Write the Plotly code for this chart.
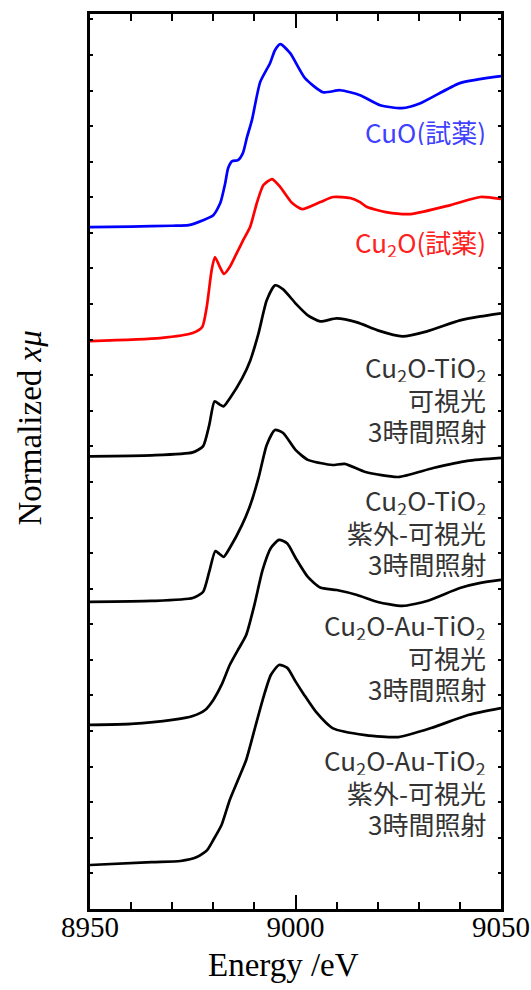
import plotly.graph_objects as go

# ---------------- data ----------------
# energies (eV) and normalized absorption (edge-step ~1), each spectrum stacked by an offset
cuo_E = [8950, 8960, 8970, 8974, 8977.5, 8980, 8981.7, 8982.9, 8983.6, 8984.6, 8986, 8987.2,
         8988.2, 8989.4, 8991.4, 8993.8, 8995, 8996.3, 8998.7, 9002.3, 9006.7, 9010.9, 9015.7,
         9020.6, 9025.9, 9030.4, 9040, 9050]
cuo_mu = [0.0, 0.004, 0.01, 0.014, 0.049, 0.084, 0.169, 0.309, 0.414, 0.464, 0.471, 0.52,
          0.632, 0.752, 1.019, 1.152, 1.243, 1.286, 1.222, 1.047, 0.948, 0.962, 0.927,
          0.857, 0.836, 0.871, 1.012, 1.061]

cu2o_E = [8950, 8967, 8975, 8977.3, 8978.4, 8979.6, 8980.4, 8981.6, 8982.6, 8984, 8985.7,
          8987.3, 8989, 8990.6, 8992.2, 8994.3, 8996.3, 8999.2, 9001.6, 9006, 9009.2, 9013.3,
          9015.7, 9017.4, 9022, 9028, 9037.7, 9045, 9050]
cu2o_mu = [0.0, 0.021, 0.056, 0.098, 0.239, 0.499, 0.59, 0.52, 0.471, 0.52, 0.618,
           0.71, 0.805, 0.97, 1.096, 1.138, 1.082, 0.969, 0.927, 0.976, 1.012, 1.005,
           0.976, 0.941, 0.906, 0.892, 0.955, 1.012, 0.998]

tio2_vis_E = [8950, 8965, 8975, 8977.5, 8979, 8980.3, 8981.5, 8982.5, 8984, 8987, 8989, 8991,
              8993, 8995, 8997, 9000, 9003, 9006, 9010, 9015, 9020, 9026, 9032, 9040, 9045, 9050]
tio2_vis_mu = [0.0, 0.007, 0.028, 0.07, 0.218, 0.386, 0.365, 0.351, 0.407, 0.548, 0.674, 0.864,
               1.096, 1.201, 1.173, 1.075, 0.991, 0.948, 0.969, 0.941, 0.885, 0.843, 0.878,
               0.955, 0.983, 1.005]

tio2_uv_E = [8950, 8965, 8975, 8977.5, 8979, 8980.5, 8981.5, 8982.5, 8984, 8987, 8989, 8991,
             8993, 8995, 8997, 9000, 9003, 9006, 9009, 9012, 9017, 9025, 9033.5, 9041.8, 9050]
tio2_uv_mu = [0.0, 0.007, 0.028, 0.07, 0.211, 0.358, 0.337, 0.316, 0.379, 0.541, 0.681, 0.871,
              1.103, 1.208, 1.187, 1.068, 0.998, 0.976, 0.962, 0.97, 0.913, 0.878, 0.941,
              0.991, 1.012]

au_vis_E = [8950, 8960, 8970, 8975, 8978, 8980, 8982, 8984, 8986, 8988, 8990, 8992, 8994,
            8996, 8998, 9000, 9003, 9006, 9010, 9015, 9020, 9026, 9032, 9040, 9045, 9050]
au_vis_mu = [0.0, 0.007, 0.035, 0.063, 0.105, 0.176, 0.281, 0.421, 0.527, 0.632, 0.843, 1.089,
             1.243, 1.3, 1.275, 1.175, 1.04, 0.965, 0.948, 0.913, 0.864, 0.836, 0.871,
             0.962, 0.998, 1.019]

au_uv_E = [8950, 8965, 8972, 8976, 8978.5, 8980, 8982, 8984, 8986, 8988, 8990, 8992, 8994,
           8996, 8998, 9000, 9002, 9005, 9009, 9017, 9025, 9033, 9042, 9050]
au_uv_mu = [0.0, 0.021, 0.028, 0.056, 0.105, 0.176, 0.281, 0.457, 0.597, 0.738, 0.948, 1.159,
            1.335, 1.405, 1.385, 1.29, 1.2, 1.075, 0.962, 0.913, 0.899, 0.962, 1.054, 1.103]

offsets = [4.79, 3.99, 3.18, 2.157, 1.293, 0.309]
colors = ["#0000ff", "#ff0000", "#000000", "#000000", "#000000", "#000000"]
label_colors = ["#4040ff", "#ff2020", "#333333", "#333333", "#333333", "#333333"]
labels = [
    ["CuO(試薬)"],
    ["Cu<sub>2</sub>O(試薬)"],
    ["Cu<sub>2</sub>O-TiO<sub>2</sub>", "可視光", "3時間照射"],
    ["Cu<sub>2</sub>O-TiO<sub>2</sub>", "紫外-可視光", "3時間照射"],
    ["Cu<sub>2</sub>O-Au-TiO<sub>2</sub>", "可視光", "3時間照射"],
    ["Cu<sub>2</sub>O-Au-TiO<sub>2</sub>", "紫外-可視光", "3時間照射"],
]
label_y = [5.465, 4.679, 3.586, 2.652, 1.767, 0.822]

series = [(cuo_E, cuo_mu), (cu2o_E, cu2o_mu), (tio2_vis_E, tio2_vis_mu),
          (tio2_uv_E, tio2_uv_mu), (au_vis_E, au_vis_mu), (au_uv_E, au_uv_mu)]

x_ticks = [8950, 9000, 9050]

# ---------------- figure ----------------
fig = go.Figure()
for (E, mu), off, c in zip(series, offsets, colors):
    fig.add_trace(go.Scatter(
        x=E, y=[m + off for m in mu], mode="lines",
        line=dict(color=c, width=2.7, shape="spline", smoothing=0.6),
        showlegend=False, hoverinfo="skip"))

cjk = "Noto Sans CJK JP, Noto Sans, sans-serif"
serif = "Liberation Serif"
line_gap = 31 / 142.35
for lines, yc, col in zip(labels, label_y, label_colors):
    n = len(lines)
    for i, t in enumerate(lines):
        y = yc + ((n - 1) / 2 - i) * line_gap
        fig.add_annotation(x=0.966, xref="paper", y=y, yref="y", text=t,
                           showarrow=False, xanchor="right", yanchor="middle",
                           height=28, borderpad=0,
                           font=dict(family=cjk, size=26, color=col))

fig.add_annotation(x=0.47, xref="paper", y=-0.0626, yref="paper", text="Energy /eV",
                   showarrow=False, xanchor="center", yanchor="middle",
                   font=dict(family=serif, size=33, color="black"))
fig.add_annotation(x=-0.1436, xref="paper", y=0.538, yref="paper",
                   text="Normalized <i>xμ</i>", textangle=-90,
                   showarrow=False, xanchor="center", yanchor="middle",
                   font=dict(family=serif, size=33, color="black"))

fig.update_layout(
    width=531, height=990, autosize=False,
    margin=dict(l=90, r=30, t=14, b=81),
    plot_bgcolor="white", paper_bgcolor="white",
    showlegend=False,
)
fig.update_xaxes(
    range=[8950, 9050], tickvals=x_ticks, ticktext=[str(v) for v in x_ticks],
    ticks="inside", ticklen=14, tickwidth=2, tickcolor="black",
    minor=dict(dtick=10, tick0=8950, ticks="inside", ticklen=7, tickwidth=2, tickcolor="black"),
    showline=True, linewidth=3, linecolor="black", mirror="ticks",
    showgrid=False, zeroline=False, ticklabelstandoff=-10, automargin=False,
    tickfont=dict(family=serif, size=29, color="black"),
)
fig.update_yaxes(
    range=[0, 6.2875], dtick=0.25, tick0=0, showticklabels=False,
    ticks="inside", ticklen=3, tickwidth=1.5, tickcolor="black",
    showline=True, linewidth=3, linecolor="black", mirror="ticks",
    showgrid=False, zeroline=False, automargin=False,
)

fig.write_html("out.html",
               config={"displayModeBar": False, "responsive": False},
               post_script="document.body.style.margin='0';document.body.style.overflow='hidden';")
